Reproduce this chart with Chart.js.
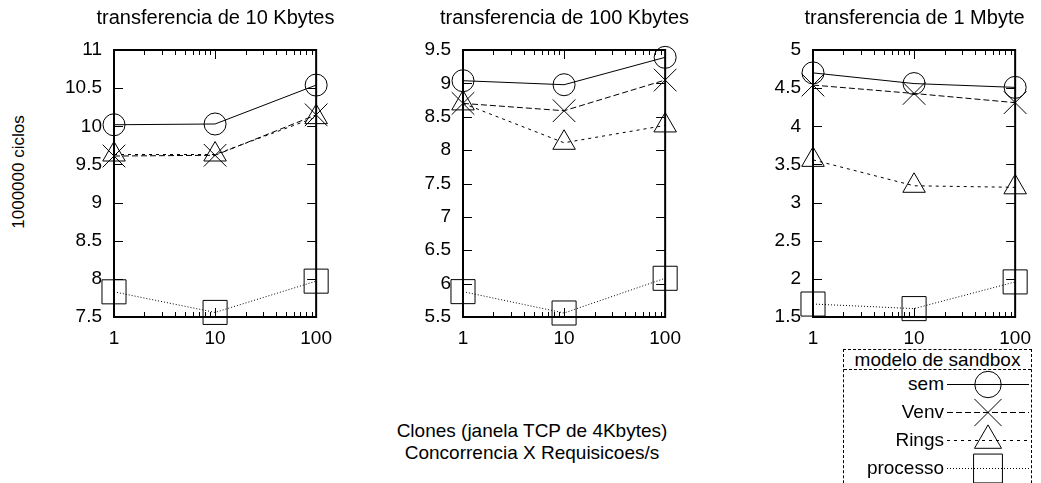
<!DOCTYPE html>
<html>
<head>
<meta charset="utf-8">
<script src="https://cdn.jsdelivr.net/npm/chart.js@4.4.0/dist/chart.umd.min.js"></script>
<style>
body { margin: 0; background: #fff; width: 1041px; height: 483px; overflow: hidden; position: relative;
       font-family: "Liberation Sans", Arial, sans-serif; color: #000; }
.painel { position: absolute; top: 0; }
.titulo { position: absolute; top: 6px; width: 300px; text-align: center; font-size: 20px; white-space: nowrap; }
#ylabel { position: absolute; left: 19px; top: 172px; font-size: 17px; white-space: nowrap;
          transform: translate(-50%, -50%) rotate(-90deg); }
#xlabel { position: absolute; left: 532px; top: 420px; transform: translateX(-50%); font-size: 19px;
          text-align: center; line-height: 22px; white-space: nowrap; }
#legenda { position: absolute; left: 843px; top: 349px; width: 189px; height: 200px; box-sizing: border-box;
           border: 1px dashed #000; }
#legenda .cab { height: 19px; border-bottom: 1px dashed #000; font-size: 19px; line-height: 19px;
                text-align: center; white-space: nowrap; }
#legenda .linha { position: absolute; left: 0; width: 187px; height: 28px; }
#legenda .rot { position: absolute; right: 87px; top: 0; line-height: 28px; font-size: 19px; }
#legenda canvas { position: absolute; left: 103px; top: 0; }
</style>
</head>
<body>

<div id="ylabel">1000000 ciclos</div>
<div id="xlabel">Clones (janela TCP de 4Kbytes)<br>Concorrencia X Requisicoes/s</div>
<div id="legenda"><div class="cab">modelo de sandbox</div></div>

<script>
// ----------------------------------------
// Dados
// ----------------------------------------
var concorrencia = [1, 10, 100];
var xTicks = [1, 10, 100];
var xMenores = [2, 3, 4, 5, 6, 7, 8, 9, 20, 30, 40, 50, 60, 70, 80, 90];

var titulos = ['transferencia de 10 Kbytes', 'transferencia de 100 Kbytes', 'transferencia de 1 Mbyte'];
var yMin = [7.5, 5.5, 1.5];
var yMax = [11, 9.5, 5];

// transferencia de 10 Kbytes
var sem_10K = [10.02, 10.03, 10.54];
var venv_10K = [9.61, 9.62, 10.15];
var rings_10K = [9.63, 9.63, 10.12];
var processo_10K = [7.83, 7.56, 7.97];

// transferencia de 100 Kbytes
var sem_100K = [9.04, 8.98, 9.39];
var venv_100K = [8.70, 8.59, 9.05];
var rings_100K = [8.70, 8.11, 8.37];
var processo_100K = [5.88, 5.56, 6.08];

// transferencia de 1 Mbyte
var sem_1M = [4.70, 4.56, 4.51];
var venv_1M = [4.54, 4.43, 4.31];
var rings_1M = [3.56, 3.22, 3.20];
var processo_1M = [1.67, 1.61, 1.96];

var nomesSeries = ['sem', 'Venv', 'Rings', 'processo'];
var valores = [
    [sem_10K, venv_10K, rings_10K, processo_10K],
    [sem_100K, venv_100K, rings_100K, processo_100K],
    [sem_1M, venv_1M, rings_1M, processo_1M]
];

// estilos das series
var tracos = [[], [6, 3], [3, 4], [1, 2]];
var marcadores = ['circle', 'crossRot', 'triangle', 'rect'];
var raios = [11, 16, 13, 17];

var esquerdas = [114, 463, 813];
var larguraPlot = 203;
var fonte = { family: '"Liberation Sans", Arial, sans-serif', size: 19 };

// ----------------------------------------
// Moldura e tiques para dentro (estilo gnuplot)
// ----------------------------------------
var moldura = {
    id: 'moldura',
    beforeDatasetsDraw: function (chart) {
        var ctx = chart.ctx, a = chart.chartArea;
        var x = chart.scales.x, y = chart.scales.y;
        function seg(x1, y1, x2, y2) {
            ctx.beginPath(); ctx.moveTo(x1, y1); ctx.lineTo(x2, y2); ctx.stroke();
        }
        ctx.save();
        ctx.strokeStyle = '#000';
        ctx.lineWidth = 1;
        y.ticks.forEach(function (t) {
            var py = Math.round(y.getPixelForValue(t.value)) + 0.5;
            seg(a.left, py, a.left + 9, py);
            seg(a.right, py, a.right - 9, py);
        });
        xTicks.forEach(function (v) {
            var px = Math.round(x.getPixelForValue(v)) + 0.5;
            seg(px, a.bottom, px, a.bottom - 9);
            seg(px, a.top, px, a.top + 9);
        });
        xMenores.forEach(function (v) {
            var px = Math.round(x.getPixelForValue(v)) + 0.5;
            seg(px, a.bottom, px, a.bottom - 5);
            seg(px, a.top, px, a.top + 5);
        });
        ctx.lineWidth = 2;
        ctx.strokeRect(a.left, a.top, a.right - a.left, a.bottom - a.top);
        ctx.restore();
    }
};

function criaPainel(idx) {
    var canvas = document.createElement('canvas');
    canvas.className = 'painel';
    canvas.width = 70 + larguraPlot + 25;
    canvas.height = 360;
    canvas.style.left = (esquerdas[idx] - 70) + 'px';
    document.body.appendChild(canvas);

    var t = document.createElement('div');
    t.className = 'titulo';
    t.textContent = titulos[idx];
    t.style.left = (esquerdas[idx] + larguraPlot / 2 - 150) + 'px';
    document.body.appendChild(t);

    var datasets = nomesSeries.map(function (nome, s) {
        return {
            label: nome,
            data: concorrencia.map(function (c, i) { return { x: c, y: valores[idx][s][i] }; }),
            borderColor: '#000',
            borderWidth: 1,
            borderDash: tracos[s],
            pointStyle: marcadores[s],
            pointRadius: raios[s],
            pointBorderColor: '#000',
            pointBackgroundColor: 'rgba(0,0,0,0)',
            pointBorderWidth: 1,
            fill: false,
            tension: 0,
            clip: false
        };
    });

    new Chart(canvas.getContext('2d'), {
        type: 'line',
        data: { datasets: datasets },
        options: {
            responsive: false,
            animation: false,
            events: [],
            layout: { padding: { top: 50, right: 25, left: 0, bottom: 0 } },
            plugins: { legend: { display: false }, tooltip: { enabled: false } },
            scales: {
                x: {
                    type: 'logarithmic',
                    min: 1, max: 100,
                    grid: { display: false, drawTicks: false },
                    border: { display: false },
                    afterBuildTicks: function (s) { s.ticks = xTicks.map(function (v) { return { value: v }; }); },
                    afterFit: function (s) { s.height = 43; },
                    ticks: { padding: 10, font: fonte, color: '#000', maxRotation: 0, autoSkip: false,
                             callback: function (v) { return String(v); } }
                },
                y: {
                    min: yMin[idx], max: yMax[idx],
                    grid: { display: false, drawTicks: false },
                    border: { display: false },
                    afterFit: function (s) { s.width = 70; },
                    ticks: { stepSize: 0.5, padding: 12, font: fonte, color: '#000',
                             callback: function (v) { return String(v); } }
                }
            }
        },
        plugins: [moldura]
    });
}

for (var p = 0; p < 3; p++) criaPainel(p);

// ----------------------------------------
// Legenda
// ----------------------------------------
var legenda = document.getElementById('legenda');
var centrosLinhas = [384, 412, 440, 468];
nomesSeries.forEach(function (nome, s) {
    var linha = document.createElement('div');
    linha.className = 'linha';
    linha.style.top = (centrosLinhas[s] - 349 - 1 - 14) + 'px';
    var rot = document.createElement('div');
    rot.className = 'rot';
    rot.textContent = nome;
    linha.appendChild(rot);
    var c = document.createElement('canvas');
    c.width = 82; c.height = 36;
    c.style.top = '-4px';
    linha.appendChild(c);
    legenda.appendChild(linha);

    var ctx = c.getContext('2d');
    ctx.strokeStyle = '#000';
    ctx.lineWidth = 1;
    ctx.setLineDash(tracos[s]);
    ctx.beginPath(); ctx.moveTo(0, 18.5); ctx.lineTo(82, 18.5); ctx.stroke();
    ctx.setLineDash([]);
    ctx.fillStyle = 'rgba(0,0,0,0)';
    Chart.helpers.drawPoint(ctx, { pointStyle: marcadores[s], radius: raios[s] * 1.2, rotation: 0, borderWidth: 1 }, 41, 18.5);
});
</script>
</body>
</html>
